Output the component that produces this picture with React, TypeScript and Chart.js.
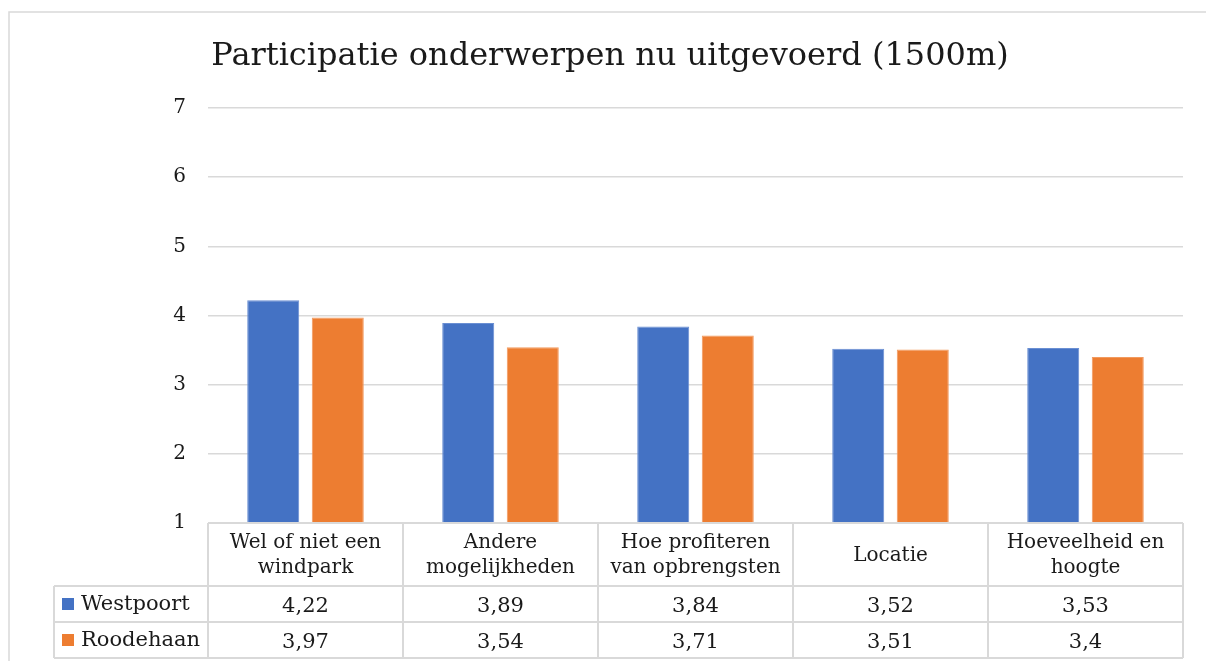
import React, { useEffect, useRef } from "react";
import { Chart, registerables } from "chart.js";

Chart.register(...registerables);

const chartTitle = "Participatie onderwerpen nu uitgevoerd (1500m)";
const categoryLines: string[][] = [
  ["Wel of niet een", "windpark"],
  ["Andere", "mogelijkheden"],
  ["Hoe profiteren", "van opbrengsten"],
  ["Locatie"],
  ["Hoeveelheid en", "hoogte"],
];
const categories = categoryLines.map((l) => l.join(" "));
const seriesNames = ["Westpoort", "Roodehaan"];
const westpoortValues = [4.22, 3.89, 3.84, 3.52, 3.53];
const roodehaanValues = [3.97, 3.54, 3.71, 3.51, 3.4];
const seriesColors = ["#4472C4", "#ED7D31"];
const yMin = 1;
const yMax = 7;
const yStep = 1;

const FONT = '"DejaVu Serif", Georgia, serif';
const TEXT = "#1a1a1a";
const LINE = "#D9D9D9";

const fmt = (v: number) => String(v).replace(".", ",");

const decorPlugin = {
  id: "decor",
  beforeDraw(chart: any) {
    const ctx = chart.ctx;
    ctx.save();
    ctx.fillStyle = "#ffffff";
    ctx.fillRect(0, 0, chart.width, chart.height);
    ctx.strokeStyle = LINE;
    ctx.lineWidth = 1.5;
    ctx.strokeRect(9, 12, chart.width + 40, chart.height + 40);
    ctx.fillStyle = TEXT;
    ctx.font = `32px ${FONT}`;
    ctx.textAlign = "center";
    ctx.textBaseline = "middle";
    ctx.fillText(chartTitle, 610, 57);
    ctx.restore();
  },
  afterDraw(chart: any) {
    const ctx = chart.ctx;
    const area = chart.chartArea;
    const xs = chart.scales.x;
    const n = categories.length;
    const colW = (area.right - area.left) / n;
    const top = area.bottom;
    const headerH = 63;
    const rowH = 36;
    const legendLeft = 54;
    const allSeries = [westpoortValues, roodehaanValues];
    ctx.save();
    ctx.strokeStyle = LINE;
    ctx.lineWidth = 2;
    ctx.beginPath();
    ctx.moveTo(area.left, top);
    ctx.lineTo(area.right, top);
    for (let r = 0; r <= allSeries.length; r++) {
      const y = top + headerH + r * rowH;
      ctx.moveTo(legendLeft, y);
      ctx.lineTo(area.right, y);
    }
    const bottom = top + headerH + allSeries.length * rowH;
    ctx.moveTo(legendLeft, top + headerH);
    ctx.lineTo(legendLeft, bottom);
    for (let i = 0; i <= n; i++) {
      const x = area.left + i * colW;
      ctx.moveTo(x, top);
      ctx.lineTo(x, bottom);
    }
    ctx.stroke();

    ctx.fillStyle = TEXT;
    ctx.textAlign = "center";
    ctx.textBaseline = "middle";
    for (let i = 0; i < n; i++) {
      const cx = xs.getPixelForValue(i);
      const lines = categoryLines[i];
      const lh = 25;
      const cy = top + headerH / 2 + 1;
      ctx.font = `20px ${FONT}`;
      lines.forEach((ln, k) => {
        ctx.fillText(ln, cx, cy + (k - (lines.length - 1) / 2) * lh);
      });
      ctx.font = `21px ${FONT}`;
      allSeries.forEach((vals, r) => {
        ctx.fillText(fmt(vals[i]), cx, top + headerH + r * rowH + rowH / 2 + 3);
      });
    }
    ctx.textAlign = "left";
    ctx.font = `21px ${FONT}`;
    allSeries.forEach((_, r) => {
      const cy = top + headerH + r * rowH + rowH / 2;
      ctx.fillStyle = seriesColors[r];
      ctx.fillRect(62, cy - 6, 12, 12);
      ctx.fillStyle = TEXT;
      ctx.fillText(seriesNames[r], 81, cy + 1);
    });
    ctx.restore();
  },
};

export default function App() {
  const ref = useRef<HTMLCanvasElement | null>(null);
  useEffect(() => {
    document.body.style.margin = "0";
    if (!ref.current) return;
    const chart = new Chart(ref.current, {
      type: "bar",
      data: {
        labels: categories,
        datasets: [
          {
            label: seriesNames[0],
            data: westpoortValues,
            backgroundColor: seriesColors[0],
            borderColor: "#6a8fd3",
            borderWidth: 1,
            categoryPercentage: 0.662,
            barPercentage: 0.806,
          },
          {
            label: seriesNames[1],
            data: roodehaanValues,
            backgroundColor: seriesColors[1],
            borderColor: "#f29a5e",
            borderWidth: 1,
            categoryPercentage: 0.662,
            barPercentage: 0.806,
          },
        ],
      },
      options: {
        animation: false,
        responsive: false,
        maintainAspectRatio: false,
        layout: { padding: { top: 108, right: 23, bottom: 138, left: 0 } },
        plugins: {
          legend: { display: false },
          title: { display: false },
          tooltip: { enabled: false },
        },
        scales: {
          x: { display: false },
          y: {
            min: yMin,
            max: yMax,
            ticks: {
              stepSize: yStep,
              padding: 22,
              color: TEXT,
              font: { family: FONT, size: 20 },
            },
            border: { display: false },
            grid: { color: LINE, lineWidth: 1.5, drawTicks: false },
            afterFit: (s: any) => {
              s.width = 208;
            },
          },
        },
      },
      plugins: [decorPlugin],
    });
    return () => chart.destroy();
  }, []);
  return (
    <div style={{ position: "relative", width: 1206, height: 661 }}>
      <canvas ref={ref} width={1206} height={661} style={{ display: "block" }} />
    </div>
  );
}
